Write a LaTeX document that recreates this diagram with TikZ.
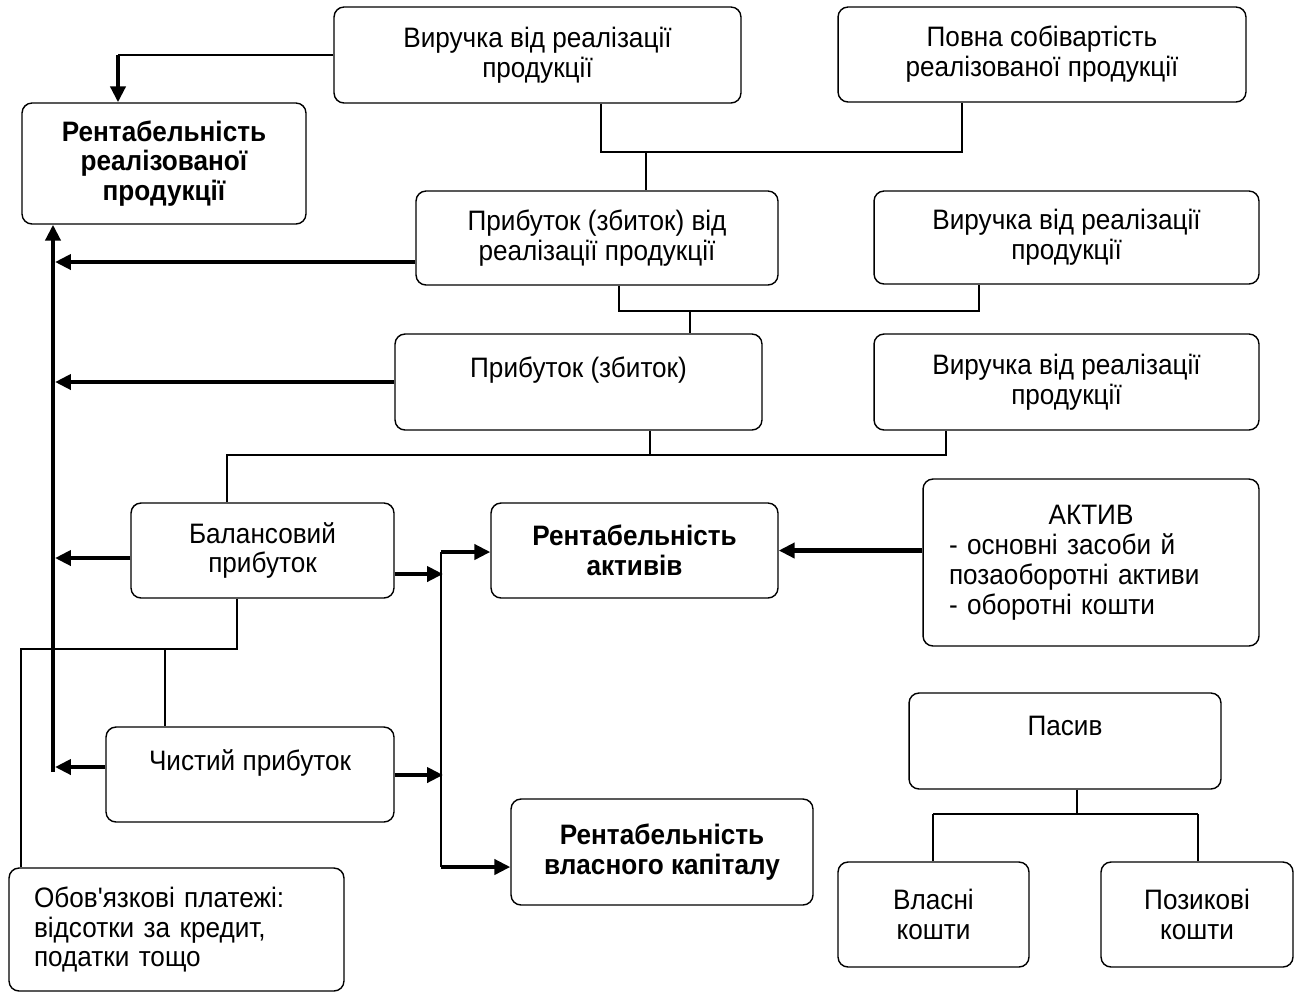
\documentclass[tikz,border=0pt]{standalone}
\usepackage{fontspec}
\setmainfont{Liberation Sans}[FakeStretch=0.93, Ligatures=TeXOff]
\usetikzlibrary{arrows.meta}

\begin{document}
\begin{tikzpicture}[x=0.02cm, y=-0.02cm,
    box/.style={draw, line width=0.8pt, rounded corners=0.2cm, align=center,
                font=\fontsize{16}{17}\selectfont, inner sep=0pt},
    wire/.style={line width=0.7pt},
    bus/.style={line width=2.3pt},
    arr/.style={line width=2.3pt, -{Triangle[length=0.32cm, width=0.3cm]}}]
  \useasboundingbox (0, 0) rectangle (1300, 992);

  \node[box, minimum width=8.14cm, minimum height=1.92cm](Rev1) at (537.5, 55) {Виручка від реалізації\\продукції};
  \node[box, minimum width=8.16cm, minimum height=1.9cm](Cost1) at (1042, 54.5) {Повна собівартість\\реалізованої продукції};
  \node[box, minimum width=5.68cm, minimum height=2.42cm, font=\fontsize{16}{17}\selectfont\bfseries](RentProd) at (164, 163.5) {Рентабельність\\реалізованої\\продукції};

  \node[box, minimum width=7.24cm, minimum height=1.88cm](Prib1) at (597, 238) {Прибуток (збиток) від\\реалізації продукції};
  \node[box, minimum width=7.7cm, minimum height=1.86cm](Rev2) at (1066.5, 237.5) {Виручка від реалізації\\продукції};

  \node[box, minimum width=7.34cm, minimum height=1.92cm](Prib2) at (578.5, 382) {Прибуток (збиток)\\~};
  \node[box, minimum width=7.7cm, minimum height=1.92cm](Rev3) at (1066.5, 382) {Виручка від реалізації\\продукції};

  \node[box, minimum width=5.26cm, minimum height=1.9cm](Bal) at (262.5, 550.5) {Балансовий\\прибуток};
  \node[box, minimum width=5.74cm, minimum height=1.9cm, font=\fontsize{16}{17}\selectfont\bfseries](RentAkt) at (634.5, 550.5) {Рентабельність\\активів};
  \node[box, minimum width=6.72cm, minimum height=3.34cm, align=left, text width=5.68cm, inner xsep=0.52cm](Aktiv) at (1091, 562.5)
       {\hfill АКТИВ\hfill\null\\- основні засоби й\\позаоборотні активи\\- оборотні кошти};

  \node[box, minimum width=5.76cm, minimum height=1.9cm](Chist) at (250, 774.5) {Чистий прибуток\\~};
  \node[box, minimum width=6.04cm, minimum height=2.12cm, font=\fontsize{16}{17}\selectfont\bfseries](RentKap) at (662, 852) {Рентабельність\\власного капіталу};
  \node[box, minimum width=6.7cm, minimum height=2.46cm, align=left, text width=5.7cm, inner xsep=0.5cm](Oblig) at (176.5, 929.5)
       {Обов'язкові платежі:\\відсотки за кредит,\\податки тощо};

  \node[box, minimum width=6.24cm, minimum height=1.92cm](Pasyv) at (1065, 741) {Пасив\\~};
  \node[box, minimum width=3.82cm, minimum height=2.1cm](Vlasni) at (933.5, 914.5) {Власні\\кошти};
  \node[box, minimum width=3.84cm, minimum height=2.1cm](Pozyk) at (1197, 914.5) {Позикові\\кошти};

  % junctions of the thin lines
  \coordinate(J1) at (601, 152);   \coordinate(J1r) at (962, 152);  \coordinate(J1m) at (646, 152);
  \coordinate(J2) at (619, 311);   \coordinate(J2r) at (979, 311);  \coordinate(J2m) at (690, 311);
  \coordinate(J3) at (650, 455);   \coordinate(J3r) at (946, 455);  \coordinate(J3l) at (227, 455);
  \coordinate(J4) at (237, 649);   \coordinate(J4l) at (21, 649);   \coordinate(J4m) at (165, 649);
  \coordinate(J5) at (1077, 814);  \coordinate(J5l) at (933, 814);  \coordinate(J5r) at (1198, 814);
  \coordinate(Turn) at (118, 55);
  \coordinate(Bus) at (53, 772);
  \coordinate(Split) at (441, 552);
  \coordinate(SplitEnd) at (441, 867);

  \draw[wire] (Rev1.south -| J1) -- (J1) -- (J1r) -- (Cost1.south -| J1r)
              (J1m) -- (Prib1.north -| J1m)
              (Prib1.south -| J2) -- (J2) -- (J2r) -- (Rev2.south -| J2r)
              (J2m) -- (Prib2.north -| J2m)
              (Prib2.south -| J3) -- (J3) -- (J3l) -- (Bal.north -| J3l)
              (J3) -- (J3r) -- (Rev3.south -| J3r)
              (Bal.south -| J4) -- (J4) -- (J4l) -- (Oblig.north -| J4l)
              (J4m) -- (Chist.north -| J4m)
              (Pasyv.south -| J5) -- (J5)
              (J5l) -- (J5r)
              (J5l) -- (Vlasni.north -| J5l)
              (J5r) -- (Pozyk.north -| J5r)
              (Rev1.west) -- (Turn)
              (Split) -- (SplitEnd);

  \draw[arr] (Turn) -- (Turn |- RentProd.north);
  \draw[arr] (Bus) -- (Bus |- RentProd.south);
  \draw[arr] (Prib1.west |- 0, 262) -- (55, 262);
  \draw[arr] (Prib2.west) -- (55, 382);
  \draw[arr] (Bal.west |- 0, 558) -- (55, 558);
  \draw[arr] (Chist.west |- 0, 767) -- (55, 767);
  \draw[arr] (Bal.east |- 0, 574) -- (443, 574);
  \draw[arr] (Chist.east |- 0, 775) -- (443, 775);
  \draw[arr] (Split) -- (RentAkt.west |- Split);
  \draw[arr] (SplitEnd) -- (RentKap.west |- SplitEnd);
  \draw[arr] (Aktiv.west |- RentAkt.east) -- (RentAkt.east);
\end{tikzpicture}
\end{document}
